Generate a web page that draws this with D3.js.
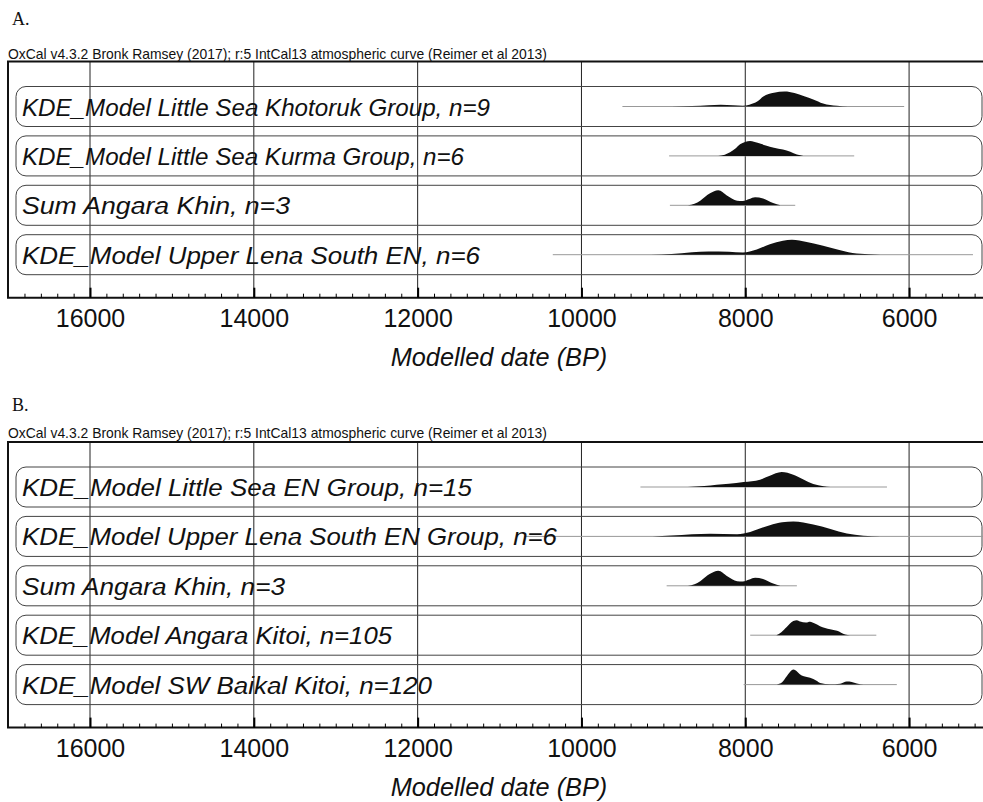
<!DOCTYPE html>
<html>
<head>
<meta charset="utf-8">
<script src="https://cdn.jsdelivr.net/npm/d3@7"></script>
<style>
body { margin: 0; background: #fff; }
</style>
</head>
<body>
<div id="chart"></div>
<script>
// ---- data ----
var headerText = 'OxCal v4.3.2 Bronk Ramsey (2017); r:5 IntCal13 atmospheric curve (Reimer et al 2013)';
var majorTicks = [16000, 14000, 12000, 10000, 8000, 6000];
var minorTicks = d3.range(16800, 5000, -200);
var axisTitle = 'Modelled date (BP)';

var labelsA = [
    'KDE_Model Little Sea Khotoruk Group, n=9',
    'KDE_Model Little Sea Kurma Group, n=6',
    'Sum Angara Khin, n=3',
    'KDE_Model Upper Lena South EN, n=6'
];
// [from, to] of the thin range line, years BP
var rangesA = [[9500, 6060], [8930, 6670], [8920, 7390], [10350, 5220]];
// [year BP, relative probability]
var densA = [
    [[8900,0],[8650,0.03],[8450,0.09],[8300,0.12],[8150,0.08],[8030,0.05],[7950,0.12],[7850,0.35],[7780,0.67],[7650,0.92],[7520,1.0],[7400,0.9],[7280,0.68],[7170,0.47],[7050,0.2],[6880,0.05],[6750,0]],
    [[8330,0],[8250,0.08],[8186,0.24],[8120,0.5],[8064,0.78],[8003,0.93],[7940,1.0],[7850,0.88],[7750,0.7],[7650,0.55],[7540,0.43],[7450,0.28],[7370,0.1],[7290,0]],
    [[8700,0],[8620,0.1],[8550,0.31],[8430,0.8],[8330,1.0],[8220,0.64],[8100,0.31],[8030,0.28],[7950,0.42],[7880,0.53],[7783,0.45],[7660,0.15],[7570,0]],
    [[9150,0],[8900,0.05],[8650,0.17],[8450,0.22],[8200,0.2],[8030,0.15],[7860,0.35],[7700,0.7],[7540,0.93],[7430,1.0],[7250,0.85],[7050,0.6],[6840,0.3],[6640,0.08],[6350,0]]
];

var labelsB = [
    'KDE_Model Little Sea EN Group, n=15',
    'KDE_Model Upper Lena South EN Group, n=6',
    'Sum Angara Khin, n=3',
    'KDE_Model Angara Kitoi, n=105',
    'KDE_Model SW Baikal Kitoi, n=120'
];
var rangesB = [[9280, 6270], [10700, 4900], [8960, 7370], [7940, 6400], [8020, 6150]];
var densB = [
    [[8700,0],[8500,0.06],[8350,0.15],[8200,0.22],[8020,0.33],[7820,0.49],[7700,0.75],[7556,1.0],[7413,0.82],[7290,0.5],[7170,0.2],[7046,0.05],[6960,0]],
    [[9130,0],[8900,0.06],[8650,0.15],[8430,0.18],[8100,0.15],[7940,0.3],[7700,0.75],[7550,0.95],[7413,1.0],[7170,0.8],[6960,0.5],[6760,0.2],[6560,0.05],[6350,0]],
    [[8700,0],[8620,0.1],[8550,0.31],[8430,0.8],[8330,1.0],[8220,0.64],[8100,0.31],[8030,0.28],[7950,0.42],[7880,0.53],[7783,0.45],[7660,0.15],[7570,0]],
    [[7620,0],[7560,0.2],[7494,0.55],[7413,0.95],[7370,1.0],[7331,0.92],[7260,0.85],[7209,0.9],[7150,0.78],[7087,0.6],[6964,0.4],[6880,0.3],[6780,0.05],[6720,0]],
    [[7620,0],[7550,0.15],[7494,0.55],[7413,1.0],[7311,0.6],[7209,0.45],[7130,0.25],[7087,0.1],[6964,0.02],[6842,0.06],[6760,0.2],[6700,0.18],[6638,0.08],[6556,0]]
];

// layout: how wide each row label is set in the original
var labelWidthA = [468, 442, 268, 458];
var labelWidthB = [450, 535, 263, 370, 410];

var width = 983, height = 802;
var sans = '"Liberation Sans", Arial, sans-serif';

var svg = d3.select('#chart').append('svg')
    .attr('width', width)
    .attr('height', height)
    .style('background', '#fff');

// same time scale for both panels
var x = d3.scaleLinear()
    .domain([17000, 5000])
    .range([8.1, 991]);

var hScale = d3.scaleLinear().domain([0, 1]).range([0, 15]);

function drawPanel(letter, letterY, headerY, top, labels, ranges, dens, labW) {
    var g = svg.append('g');

    g.append('text')
        .attr('x', 12)
        .attr('y', letterY)
        .style('font', '18px "Liberation Serif", "Times New Roman", serif')
        .attr('fill', '#111')
        .text(letter);

    g.append('text')
        .attr('x', 8)
        .attr('y', headerY)
        .style('font', '13.9px ' + sans)
        .attr('fill', '#111')
        .text(headerText);

    var y = d3.scaleBand()
        .domain(labels)
        .range([top + 25, top + 25 + labels.length * 49.4 - 9.4])
        .paddingInner(0.19);

    var axisY = y.range()[1] + 23;

    // vertical grid
    g.selectAll('line.grid')
        .data(majorTicks)
        .enter().append('line')
        .attr('class', 'grid')
        .attr('x1', function(d) { return x(d); })
        .attr('x2', function(d) { return x(d); })
        .attr('y1', top)
        .attr('y2', axisY)
        .attr('stroke', '#222')
        .attr('stroke-width', 1);

    // rounded boxes
    g.selectAll('rect.box')
        .data(labels)
        .enter().append('rect')
        .attr('class', 'box')
        .attr('x', 16)
        .attr('y', function(d) { return y(d); })
        .attr('width', 966)
        .attr('height', y.bandwidth())
        .attr('rx', 10)
        .attr('fill', 'none')
        .attr('stroke', '#444')
        .attr('stroke-width', 1);

    // range lines
    g.selectAll('line.range')
        .data(ranges)
        .enter().append('line')
        .attr('class', 'range')
        .attr('x1', function(d) { return x(d[0]); })
        .attr('x2', function(d) { return x(d[1]); })
        .attr('y1', function(d, i) { return y(labels[i]) + y.bandwidth() / 2; })
        .attr('y2', function(d, i) { return y(labels[i]) + y.bandwidth() / 2; })
        .attr('stroke', '#999')
        .attr('stroke-width', 1);

    // distributions
    dens.forEach(function(pts, i) {
        var base = y(labels[i]) + y.bandwidth() / 2;
        var area = d3.area()
            .x(function(d) { return x(d[0]); })
            .y0(base)
            .y1(function(d) { return base - hScale(d[1]); })
            .curve(d3.curveMonotoneX);
        g.append('path')
            .datum(pts)
            .attr('d', area)
            .attr('fill', '#111');
    });

    // row labels
    g.selectAll('text.lab')
        .data(labels)
        .enter().append('text')
        .attr('class', 'lab')
        .attr('x', 22)
        .attr('y', function(d) { return y(d) + y.bandwidth() / 2 + 9; })
        .attr('textLength', function(d, i) { return labW[i]; })
        .attr('lengthAdjust', 'spacingAndGlyphs')
        .style('font', 'italic 24.5px ' + sans)
        .attr('fill', '#111')
        .text(function(d) { return d; });

    // frame
    g.append('path')
        .attr('d', 'M' + width + ',' + top + 'H8V' + axisY + 'H' + width)
        .attr('fill', 'none')
        .attr('stroke', '#111')
        .attr('stroke-width', 2);

    // ticks
    var minorAxis = d3.axisBottom(x)
        .tickValues(minorTicks)
        .tickSize(-4)
        .tickSizeOuter(0)
        .tickFormat('');
    g.append('g')
        .attr('transform', 'translate(0,' + axisY + ')')
        .call(minorAxis)
        .call(function(a) { a.select('.domain').remove(); });

    var majorAxis = d3.axisBottom(x)
        .tickValues(majorTicks)
        .tickSize(-10)
        .tickSizeOuter(0)
        .tickPadding(12)
        .tickFormat(d3.format('d'));
    g.append('g')
        .attr('transform', 'translate(0,' + axisY + ')')
        .call(majorAxis)
        .call(function(a) {
            a.select('.domain').remove();
            a.selectAll('.tick line').attr('stroke-width', 2);
            a.selectAll('.tick text')
                .style('font', '25px ' + sans)
                .attr('fill', '#111');
        });

    g.append('text')
        .attr('x', 499)
        .attr('y', axisY + 68)
        .attr('text-anchor', 'middle')
        .style('font', 'italic 25.3px ' + sans)
        .attr('fill', '#111')
        .text(axisTitle);
}

drawPanel('A.', 25, 59, 61.5, labelsA, rangesA, densA, labelWidthA);
drawPanel('B.', 411, 438, 442, labelsB, rangesB, densB, labelWidthB);
</script>
</body>
</html>
